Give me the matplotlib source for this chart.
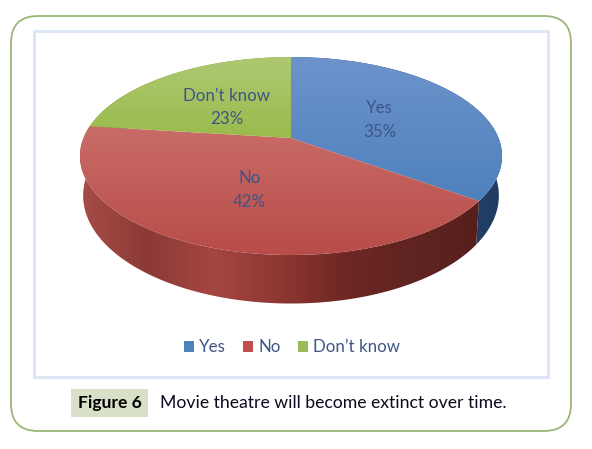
import numpy as np
import matplotlib
matplotlib.use('Agg')
import matplotlib.pyplot as plt
from matplotlib.colors import LinearSegmentedColormap
from matplotlib.patches import FancyBboxPatch, Patch, Polygon, Rectangle

categories = ['Yes', 'No', 'Don\u2019t know']
values = [35, 42, 23]

top_colors = [['#6d93cb', '#4f81bd'], ['#c96c68', '#b84c48'], ['#aec873', '#9bbb4c']]
wall_colors = [['#2a4a75', '#213c62'],
               ['#a84c47', '#8c3a36', '#a54541', '#8e3733', '#6e2723', '#5f2420', '#571f1b'],
               ['#7d9a3c', '#7d9a3c']]
legend_colors = ['#4f81bd', '#c0504d', '#9bbb59']
text_color = '#3f5488'

plt.rcParams['font.family'] = ['Lato', 'DejaVu Sans']

fig = plt.figure(figsize=(5.92, 4.49), dpi=100)
ax = fig.add_axes([0, 0, 1, 1])


# circle on the table -> screen pixels, with some perspective
def project(u, v, scale_x=1.0, scale_y=1.0, y0=138):
    w = 1 + 0.182 * v
    return 291 + scale_x * 207.5 * u / w, y0 - scale_y * 95.7 * v / w


def rim(a0, a1, **kw):
    t = np.radians(np.linspace(a0, a1, 200))
    x, y = project(np.sin(t), np.cos(t), **kw)
    return np.column_stack([x, y])


def fill_gradient(points, colors, vertical, zorder):
    cmap = LinearSegmentedColormap.from_list('g', colors)
    poly = Polygon(points, closed=True, fc='none', ec='none', transform=ax.transData)
    ax.add_patch(poly)
    grad = np.linspace(0, 1, 256)
    if vertical:
        img = grad[:, None]
        ext = (0, 592, points[:, 1].max(), points[:, 1].min())
    else:
        img = grad[None, :]
        ext = (points[:, 0].min(), points[:, 0].max(), 449, 0)
    im = ax.imshow(img, cmap=cmap, extent=ext, aspect='auto', zorder=zorder, interpolation='bilinear')
    im.set_clip_path(poly)


# outer frames
ax.add_patch(FancyBboxPatch((11, 16), 560, 415, boxstyle='round,pad=0,rounding_size=27',
                            fc='white', ec='#9ab777', lw=1.3, zorder=0))
ax.add_patch(Rectangle((34, 31), 514, 346, fc='white', ec='#dbe5f4', lw=2, zorder=1))

edges = np.cumsum([0] + values) * 3.6
apex = np.array(project(0, 0))

# side walls first, the top surface covers their back half
for i in range(len(values)):
    upper = rim(edges[i], edges[i + 1])
    lower = rim(edges[i], edges[i + 1], scale_x=0.985, scale_y=1.09, y0=176)
    fill_gradient(np.vstack([upper, lower[::-1]]), wall_colors[i], False, 2 + i * 0.1)

for i in range(len(values)):
    wedge = np.vstack([apex, rim(edges[i], edges[i + 1])])
    fill_gradient(wedge, top_colors[i], True, 3)

# data labels
for cat, val, a0, a1 in zip(categories, values, edges[:-1], edges[1:]):
    mid = np.radians((a0 + a1) / 2)
    x, y = project(0.5 * np.sin(mid), 0.5 * np.cos(mid))
    ax.text(x, y + 3, f'{cat}\n{val}%', ha='center', va='center', fontsize=12.2,
            color=text_color, linespacing=1.6, zorder=4)

handles = [Patch(fc=c, ec='none') for c in legend_colors]
ax.legend(handles, categories, ncol=3, loc='center', bbox_to_anchor=(292, 347),
          bbox_transform=ax.transData, frameon=False, fontsize=12.2, labelcolor=text_color,
          handlelength=0.62, handleheight=0.62, handletextpad=0.3, columnspacing=1.0,
          borderpad=0, borderaxespad=0)

# caption
ax.add_patch(Rectangle((71, 389), 77, 28, fc='#d8e0c8', ec='none', zorder=2))
ax.text(109.5, 403, 'Figure 6', ha='center', va='center', fontsize=12.6, fontweight='bold',
        color='black', zorder=3)
ax.text(160, 403, 'Movie theatre will become extinct over time.', ha='left', va='center',
        fontsize=12.7, color='#0a0a1e', zorder=3)

ax.set_xlim(0, 592)
ax.set_ylim(449, 0)
ax.axis('off')

fig.savefig('out.png', dpi=100)
